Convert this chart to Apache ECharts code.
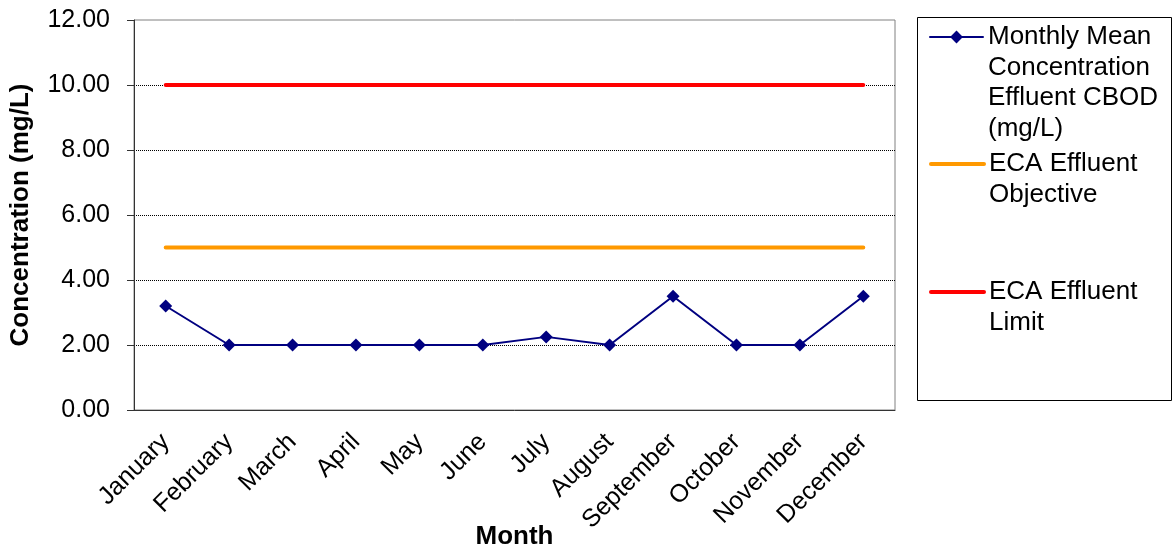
<!DOCTYPE html>
<html>
<head>
<meta charset="utf-8">
<script src="https://cdn.jsdelivr.net/npm/echarts@6/dist/echarts.min.js"></script>
<style>
  html, body { margin: 0; padding: 0; background: #fff; }
  #chart { width: 1172px; height: 556px; }
</style>
</head>
<body>
<div id="chart"></div>
<script>
const FONT = '"Liberation Sans", Arial, sans-serif'

const months = ['January', 'February', 'March', 'April', 'May', 'June', 'July',
  'August', 'September', 'October', 'November', 'December']
const monthlyMean = [3.2, 2, 2, 2, 2, 2, 2.25, 2, 3.5, 2, 2, 3.5]
const effluentObjective = [5, 5, 5, 5, 5, 5, 5, 5, 5, 5, 5, 5]
const effluentLimit = [10, 10, 10, 10, 10, 10, 10, 10, 10, 10, 10, 10]

const NAME_MEAN = 'Monthly Mean Concentration Effluent CBOD (mg/L)'
const NAME_OBJ = 'ECA Effluent Objective'
const NAME_LIMIT = 'ECA Effluent Limit'
const legendText = {}
legendText[NAME_MEAN] = 'Monthly Mean\nConcentration\nEffluent CBOD\n(mg/L)'
legendText[NAME_OBJ] = 'ECA Effluent\nObjective'
legendText[NAME_LIMIT] = 'ECA Effluent\nLimit'

const LINE_H = 30.5

// legend icon sits on the first text line, like Excel does:
// pad the label with empty lines on top so that line is the middle one
function legendBlock(name, firstLineY, hideSymbol, lineWidth) {
  let lines = legendText[name].split('\n').length
  let blockH = (2 * lines - 1) * LINE_H
  return {
    data: [name],
    orient: 'vertical',
    left: 929,
    top: firstLineY - blockH / 2,
    padding: 0,
    itemWidth: 53,
    itemHeight: 16,
    selectedMode: false,
    itemStyle: hideSymbol ? { opacity: 0 } : {},
    lineStyle: { width: lineWidth, cap: 'round' },
    formatter: n => '\n'.repeat(lines - 1) + legendText[n],
    textStyle: {
      fontFamily: FONT,
      fontSize: 26,
      color: '#000',
      lineHeight: LINE_H
    }
  }
}

let myChart = echarts.init(document.getElementById('chart'))
myChart.setOption({
  animation: false,
  backgroundColor: '#fff',
  grid: {
    left: 134,
    right: 277,
    top: 20,
    bottom: 146,
    outerBoundsMode: 'none',
    show: true,
    borderColor: '#808080',
    borderWidth: 1
  },
  legend: [
    legendBlock(NAME_MEAN, 37, false, 2),
    legendBlock(NAME_OBJ, 164, true, 4),
    legendBlock(NAME_LIMIT, 292, true, 4)
  ],
  graphic: [{
    type: 'rect',
    shape: { x: 917.5, y: 17.5, width: 254, height: 383 },
    style: { fill: 'none', stroke: '#000', lineWidth: 1 },
    z: -1
  }],
  xAxis: {
    type: 'category',
    data: months,
    name: 'Month',
    nameLocation: 'middle',
    nameGap: 114,
    nameMoveOverlap: false,
    nameTextStyle: { fontFamily: FONT, fontSize: 26, fontWeight: 'bold', color: '#000' },
    axisLine: { lineStyle: { color: '#333', width: 1 } },
    axisTick: { length: 7, lineStyle: { color: '#333' } },
    axisLabel: {
      interval: 0,
      rotate: 45,
      margin: 28,
      fontFamily: FONT,
      fontSize: 25,
      color: '#000'
    }
  },
  yAxis: {
    type: 'value',
    min: 0,
    max: 12,
    interval: 2,
    name: 'Concentration (mg/L)',
    nameLocation: 'middle',
    nameGap: 100,
    nameMoveOverlap: false,
    nameTextStyle: { fontFamily: FONT, fontSize: 26, fontWeight: 'bold', color: '#000' },
    axisLine: { show: true, lineStyle: { color: '#333', width: 1 } },
    axisTick: { show: true, length: 7, lineStyle: { color: '#333' } },
    axisLabel: {
      margin: 24,
      fontFamily: FONT,
      fontSize: 25,
      color: '#000',
      formatter: v => v.toFixed(2)
    },
    splitLine: {
      show: true,
      showMinLine: false,
      showMaxLine: false,
      lineStyle: { color: '#000', type: [1, 1], width: 1 }
    }
  },
  series: [
    {
      name: NAME_MEAN,
      type: 'line',
      data: monthlyMean,
      symbol: 'diamond',
      symbolSize: 13,
      color: '#000080',
      lineStyle: { color: '#000080', width: 2 },
      itemStyle: { color: '#000080' },
      z: 5
    },
    {
      name: NAME_OBJ,
      type: 'line',
      data: effluentObjective,
      symbol: 'none',
      color: '#FF9900',
      lineStyle: { color: '#FF9900', width: 4, cap: 'round' }
    },
    {
      name: NAME_LIMIT,
      type: 'line',
      data: effluentLimit,
      symbol: 'none',
      color: '#FF0000',
      lineStyle: { color: '#FF0000', width: 4, cap: 'round' }
    }
  ]
})
</script>
</body>
</html>
